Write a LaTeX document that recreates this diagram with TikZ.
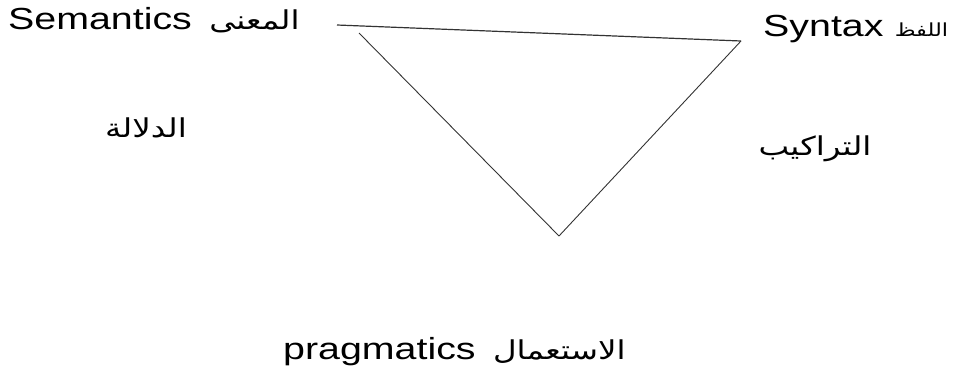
\documentclass[tikz,border=0pt]{standalone}
\usepackage{fontspec}
\setmainfont{Liberation Sans}[FakeStretch=1.29]
\newfontfamily\arabicfont[Script=Arabic,FakeStretch=1.25]{DejaVu Sans}
\TeXXeTstate=1
\usetikzlibrary{positioning}

\newcommand{\artext}[1]{{\arabicfont\beginR #1\endR}}

\begin{document}
\begin{tikzpicture}[x=1pt, y=-1pt,
    en/.style={inner sep=0pt, anchor=base west, font=\fontsize{30.5}{36}\selectfont},
    ar/.style={inner sep=0pt, font=\fontsize{26}{32}\selectfont},
    side/.style={line width=0.9pt, draw=black!80}]
    \useasboundingbox (0,0) rectangle (961,381);

    % Nodes
    \node[en] (semEn) at (8,29) {Semantics};
    \node[ar, base right=17pt of semEn] (semAr) {\artext{المعنى}};
    \node[en] (synEn) at (763,36) {Syntax};
    \node[ar, base right=11pt of synEn, font=\fontsize{18}{22}\selectfont] (synAr) {\artext{اللفظ}};
    \node[en] (praEn) at (283,359) {pragmatics};
    \node[ar, base right=17pt of praEn] (praAr) {\artext{الاستعمال}};
    \node[ar, anchor=base] (dalala) at (146,137) {\artext{الدلالة}};
    \node[ar, anchor=base] (tarakib) at (815,155) {\artext{التراكيب}};

    % Triangle
    \coordinate (topA) at (337,25);
    \coordinate (topB) at (359,33);
    \coordinate (right) at (741,41);
    \coordinate (bottom) at (559,236);

    % Edges
    \draw[side, line width=1.2pt] (topA) -- (right);
    \draw[side] (right) -- (bottom);
    \draw[side] (bottom) -- (topB);
\end{tikzpicture}
\end{document}
